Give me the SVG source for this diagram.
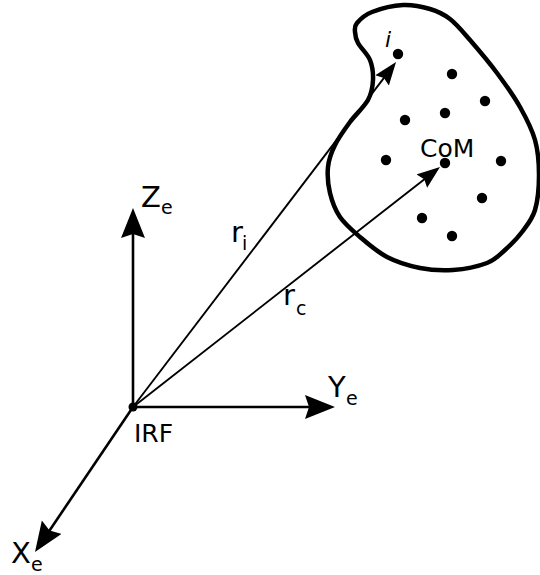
<svg xmlns="http://www.w3.org/2000/svg" width="540" height="575" viewBox="0 0 540 575">
<style>
text{font-family:"DejaVu Sans","Liberation Sans",sans-serif;fill:#000}
.lbl{font-size:29px}
.sub{font-size:19px}
.axis{stroke:#000;stroke-width:2.6;fill:none}
.vec{stroke:#000;stroke-width:1.9;fill:none}
.pt{fill:#000}
</style>
<defs>
<marker id="big" markerUnits="userSpaceOnUse" markerWidth="32" markerHeight="26" refX="20" refY="12" orient="auto" viewBox="0 0 32 26">
<path d="M0,0 L30,12 L0,24 L4,12 Z" fill="#000"/>
</marker>
<marker id="small" markerUnits="userSpaceOnUse" markerWidth="24" markerHeight="18" refX="15" refY="8.5" orient="auto" viewBox="0 0 24 18">
<path d="M0,0 L23,8.5 L0,17 L3,8.5 Z" fill="#000"/>
</marker>
</defs>

<g id="body">
<path d="M357,23 C359.8,19.7 364.3,15 372,12 S393.3,5.5 403,5 S422.2,6.7 430,9 S443.3,13.8 450,19 S462.2,31 470,40 S488.7,61.8 497,73 S513.7,95.8 520,107 S531.8,128.7 535,140 S539,163.3 539,175 S537.8,200.5 535,210 S527,225.3 522,232 S510.8,244.8 505,250 S495.7,259.7 487,263 S464.2,269.2 453,270 S431,270.2 420,268 S397,262.2 387,257 S367.8,243.7 360,237 S345,224.3 340,217 S332,201.3 330,193 S327.2,175 328,167 S331.3,152.5 335,145 S344.5,129.5 350,122 S364.2,107 368,100 S372.7,86.7 373,80 S372.5,66.2 370,60 S360.5,47.7 358,43 S355.2,35.3 355,32 S354.2,26.3 357,23 Z" fill="none" stroke="#000" stroke-width="4.5" stroke-linejoin="round"/>
</g>

<g id="particles">
<circle class="pt" cx="452" cy="74" r="5.2"/>
<circle class="pt" cx="485" cy="101" r="5.2"/>
<circle class="pt" cx="445" cy="113" r="5.2"/>
<circle class="pt" cx="405" cy="120" r="5.2"/>
<circle class="pt" cx="386" cy="160" r="5.2"/>
<circle class="pt" cx="501" cy="161" r="5.2"/>
<circle class="pt" cx="482" cy="198" r="5.2"/>
<circle class="pt" cx="422" cy="218" r="5.2"/>
<circle class="pt" cx="452" cy="236" r="5.2"/>
</g>

<g id="particle-i">
<circle class="pt" cx="398" cy="54" r="5.2"/>
<text x="385" y="47" font-size="22" font-style="italic">i</text>
</g>

<g id="com">
<circle class="pt" cx="445" cy="163" r="5.2"/>
<text x="420" y="157" font-size="25">CoM</text>
</g>

<g id="connectors">
<line class="axis" x1="133" y1="407" x2="133" y2="218" marker-end="url(#big)"/>
<line class="axis" x1="133" y1="407" x2="325" y2="407" marker-end="url(#big)"/>
<line class="axis" x1="133" y1="407" x2="40.6" y2="543.7" marker-end="url(#big)"/>
<line class="vec" x1="133" y1="407" x2="391.2" y2="68.4" marker-end="url(#small)"/>
<line class="vec" x1="133" y1="407" x2="433.7" y2="171.9" marker-end="url(#small)"/>
</g>

<g id="irf">
<circle class="pt" cx="133" cy="407" r="4.5"/>
<text x="134" y="442" font-size="25">IRF</text>
</g>

<g id="label-z">
<text class="lbl" x="141" y="207">Z</text>
<text class="sub" x="161" y="214">e</text>
</g>
<g id="label-y">
<text class="lbl" x="328" y="397">Y</text>
<text class="sub" x="346" y="405">e</text>
</g>
<g id="label-x">
<text class="lbl" x="11" y="563">X</text>
<text class="sub" x="31" y="571">e</text>
</g>
<g id="label-ri">
<text class="lbl" x="231" y="242">r</text>
<text class="sub" x="242" y="250">i</text>
</g>
<g id="label-rc">
<text class="lbl" x="283" y="305">r</text>
<text class="sub" x="296" y="315">c</text>
</g>
</svg>
